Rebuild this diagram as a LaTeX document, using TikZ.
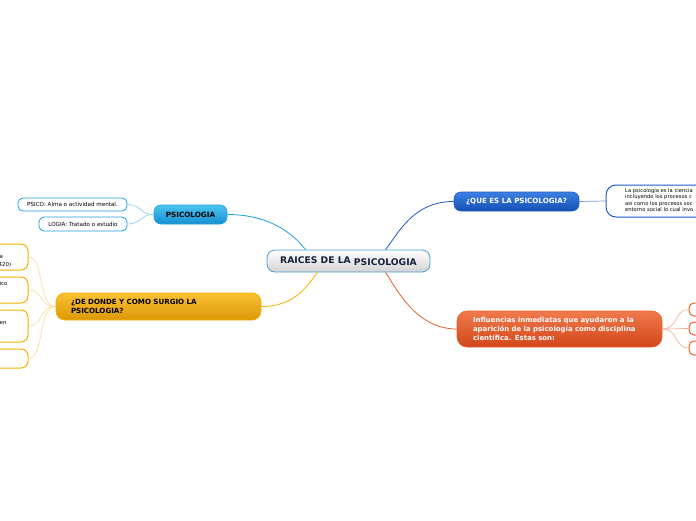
\documentclass[tikz,border=0pt]{standalone}
\usepackage{fontspec}
\setmainfont{DejaVu Sans}
\definecolor{rootbd}{HTML}{4A9FD8}
\definecolor{roottx}{HTML}{14213D}
\definecolor{lblue}{HTML}{1BA1E2}
\definecolor{lbluetop}{HTML}{4CC4F2}
\definecolor{lbluebot}{HTML}{1590D0}
\definecolor{dblue}{HTML}{1A5AC8}
\definecolor{dbluetop}{HTML}{3C80E2}
\definecolor{dbluebot}{HTML}{1450B4}
\definecolor{yel}{HTML}{F6B000}
\definecolor{yeltop}{HTML}{F9C232}
\definecolor{yelbot}{HTML}{DC9806}
\definecolor{ora}{HTML}{E8602A}
\definecolor{oratop}{HTML}{F07A4C}
\definecolor{orabot}{HTML}{D2461A}
\definecolor{lyel}{HTML}{FFD98A}
\definecolor{lora}{HTML}{F8A890}
\definecolor{llblue}{HTML}{8FD0F0}
\tikzset{
  rootbox/.style={draw=rootbd, line width=0.8pt, top color=white, bottom color=gray!35, rounded corners=8pt,
     minimum width=163pt, minimum height=22pt, inner sep=0pt, text=roottx, font=\bfseries\fontsize{9.2}{10}\selectfont},
  psibox/.style={draw=lblue, line width=0.6pt, top color=lbluetop, bottom color=lbluebot, rounded corners=7pt,
     minimum width=73pt, minimum height=19pt, inner sep=0pt, text=black, font=\bfseries\fontsize{7.2}{8}\selectfont},
  lbchild/.style={draw=lblue, line width=0.8pt, fill=white, rounded corners=5pt, minimum height=13pt, inner sep=0pt,
     text=black, font=\fontsize{5.6}{6.5}\selectfont},
  quebox/.style={draw=dblue, line width=0.6pt, top color=dbluetop, bottom color=dbluebot, rounded corners=7pt,
     minimum width=125pt, minimum height=19pt, inner sep=0pt, text=white, font=\bfseries\fontsize{7.1}{8}\selectfont},
  defbox/.style={draw=dblue, line width=1pt, fill=white, rounded corners=10pt, minimum width=150pt, minimum height=32pt,
     inner sep=0pt},
  ddbox/.style={draw=yel, line width=0.8pt, top color=yeltop, bottom color=yelbot, rounded corners=9pt,
     minimum width=205pt, minimum height=27pt, inner xsep=15pt, inner ysep=0pt, text width=175pt, align=left,
     text=black, font=\bfseries\fontsize{7.1}{9}\selectfont},
  ychild/.style={draw=yel, line width=1pt, fill=white, rounded corners=7pt, minimum width=60pt, inner sep=0pt},
  infbox/.style={draw=ora, line width=0.6pt, top color=oratop, bottom color=orabot, rounded corners=10pt,
     minimum width=205pt, minimum height=36pt, inner xsep=16pt, inner ysep=0pt, text width=173pt, align=left,
     text=white, font=\bfseries\fontsize{6.95}{8.6}\selectfont},
  ochild/.style={draw=ora, line width=1pt, fill=white, rounded corners=5pt, minimum width=40pt, inner sep=0pt},
  frag/.style={inner sep=0pt, text=black, font=\fontsize{5.4}{6}\selectfont},
}
\begin{document}
\begin{tikzpicture}[x=1pt,y=-1pt]
\useasboundingbox (0,0) rectangle (696,520);
\clip (0,0) rectangle (696,520);
\fill[white] (0,0) rectangle (696,520);

% nodes
\node[rootbox] (root) at (348.5,261) {RAICES DE LA \raisebox{-1.5pt}{PSICOLOGIA}};
\node[psibox] (psi) at (190.5,214.5) {PSICOLOGIA};
\node[lbchild, minimum width=109pt] (psico) at (72.5,204.5) {PSICO: Alma o actividad mental.};
\node[lbchild, minimum width=88pt, minimum height=14pt] (logia) at (83,224) {LOGIA: Tratado o estudio};
\node[quebox] (que) at (516.5,201.5) {¿QUE ES LA PSICOLOGIA?};
\node[defbox] (def) at (681,201) {};
\node[anchor=north west, inner sep=0pt, align=left, font=\fontsize{5.2}{6.4}\selectfont] (deftext) at (625,188)
  {La psicología es la ciencia\\incluyendo los procesos c\\así como los procesos soc\\entorno social lo cual invo};
\node[ddbox] (dd) at (158.5,306.5) {¿DE DONDE Y COMO SURGIO LA\\PSICOLOGIA?};
\node[ychild, minimum height=26pt] (y1) at (-2,257) {};
\node[ychild, minimum height=26pt] (y2) at (-2,290) {};
\node[ychild, minimum height=32pt] (y3) at (-2,326) {};
\node[ychild, minimum height=19pt] (y4) at (-2,358.5) {};
\node[frag, anchor=west] (f1) at (-0.5,257.5) {a};
\node[frag, anchor=west] (f2) at (-1.5,264.5) {420)};
\node[frag, anchor=west] (f3) at (-0.5,283.5) {ico};
\node[frag, anchor=west] (f4) at (-0.5,323.5) {en};
\node[infbox] (inf) at (559.5,329) {Influencias inmediatas que ayudaron a la\\aparición de la psicología como disciplina\\científica. Estas son:};
\node[ochild, minimum height=13pt] (o1) at (709,309.5) {};
\node[ochild, minimum height=13pt] (o2) at (709,328.5) {};
\node[ochild, minimum height=14pt] (o3) at (709,348) {};

% main branches
\draw[lblue, line width=0.8pt] (psi.east) .. controls +(40,0) and +(-14,-18) .. ([xshift=-43pt]root.north);
\draw[dblue, line width=0.8pt] (que.west) .. controls +(-40,0) and +(14,-18) .. ([xshift=37pt]root.north);
\draw[yel, line width=0.8pt] (dd.east) .. controls +(32,0) and +(-12,16) .. ([xshift=-31pt]root.south);
\draw[ora, line width=0.8pt] (inf.west) .. controls +(-40,0) and +(12,18) .. ([xshift=37pt]root.south);

% sub branches
\draw[llblue, line width=0.7pt] (psi.west) .. controls +(-14,0) and +(14,0) .. (psico.east);
\draw[llblue, line width=0.7pt] (psi.west) .. controls +(-14,0) and +(14,0) .. (logia.east);
\draw[dblue!60, line width=0.7pt] (que.east) -- (def.west);
\foreach \n in {y1,y2,y3,y4}
  \draw[lyel, line width=0.6pt] (dd.west) .. controls +(-18,0) and +(16,0) .. (\n.east);
\foreach \n in {o1,o2,o3}
  \draw[lora, line width=0.6pt] (inf.east) .. controls +(16,0) and +(-14,0) .. (\n.west);
\end{tikzpicture}
\end{document}
